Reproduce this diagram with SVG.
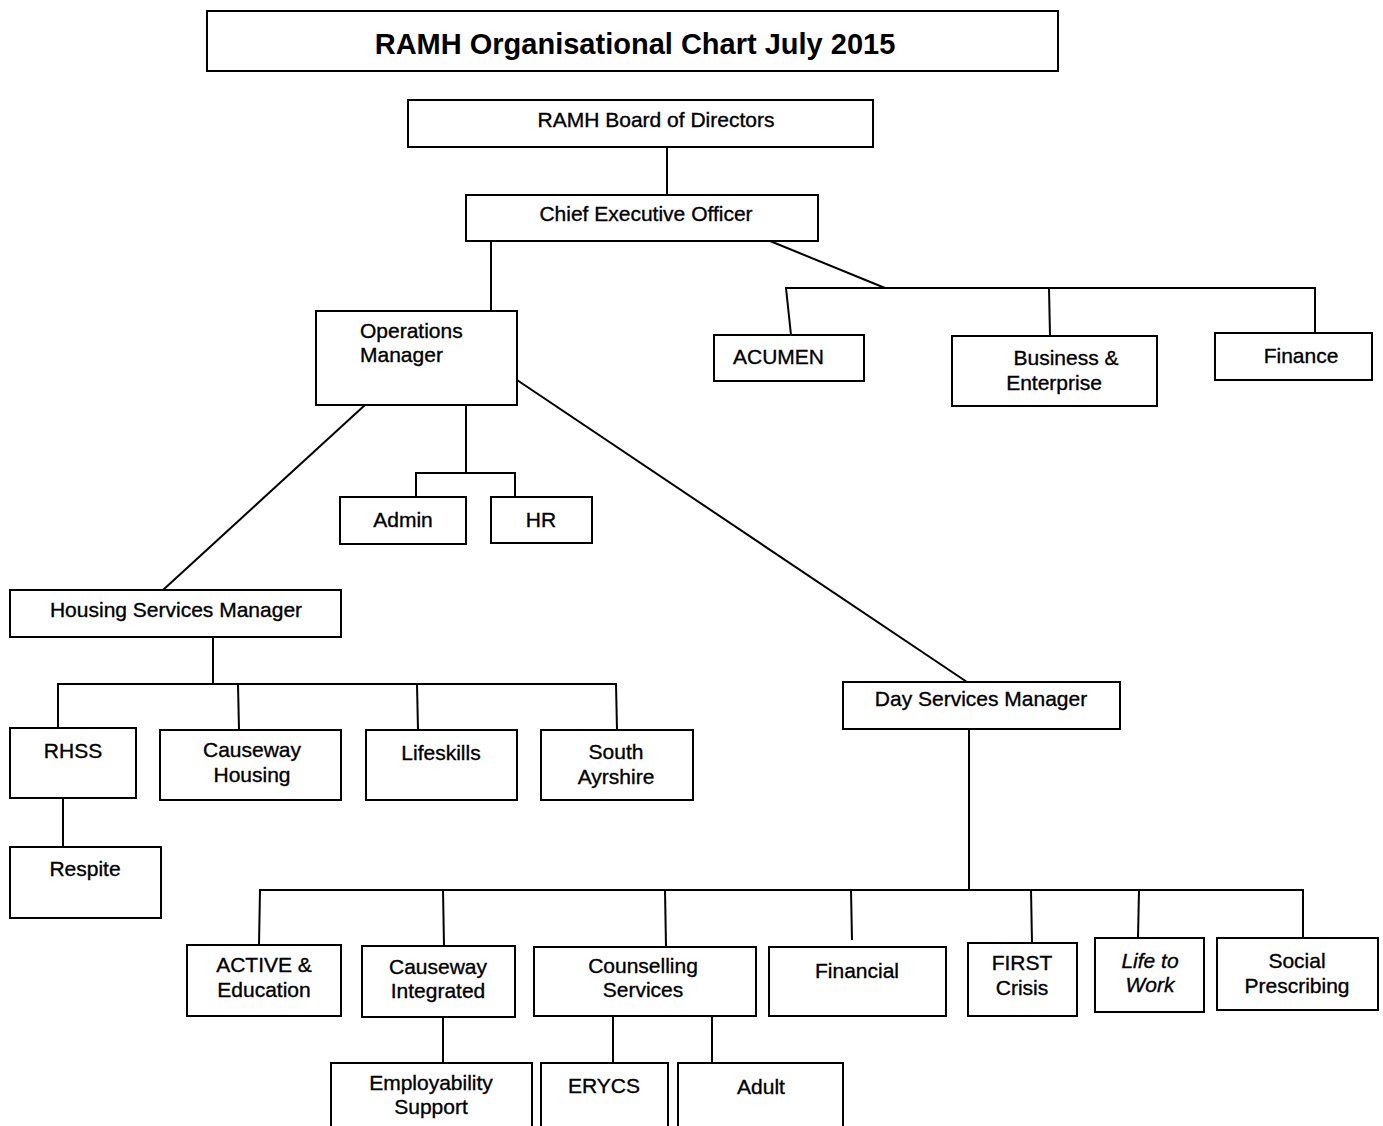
<svg xmlns="http://www.w3.org/2000/svg" width="1383" height="1126" viewBox="0 0 1383 1126">
<style>
.box{fill:#fff;stroke:#000;stroke-width:2}
.t{font-family:"Liberation Sans",Arial,sans-serif;font-size:21px;fill:#000;stroke:#000;stroke-width:0.35;text-anchor:middle}
.l{text-anchor:start}
.i{font-style:italic}
.title{font-family:"Liberation Sans",Arial,sans-serif;font-size:29px;font-weight:bold;fill:#000;text-anchor:middle}
.c{fill:none;stroke:#000;stroke-width:2}
</style>
<rect width="1383" height="1126" fill="#fff"/>
<g id="connectors">
<line class="c" x1="667" y1="147" x2="667" y2="195"/>
<line class="c" x1="491" y1="241" x2="491" y2="311"/>
<polyline class="c" points="770,241 885,288"/>
<polyline class="c" points="791,335 786,288 1315,288 1315,333"/>
<line class="c" x1="1049" y1="288" x2="1050" y2="336"/>
<line class="c" x1="365" y1="405" x2="163" y2="590"/>
<line class="c" x1="466" y1="405" x2="466" y2="473"/>
<polyline class="c" points="416,497 416,473 515,473 515,497"/>
<line class="c" x1="517" y1="380" x2="967" y2="682"/>
<line class="c" x1="213" y1="637" x2="213" y2="684"/>
<polyline class="c" points="58,728 58,684 616,684 617,730"/>
<line class="c" x1="238" y1="684" x2="239" y2="730"/>
<line class="c" x1="417" y1="684" x2="418" y2="730"/>
<line class="c" x1="63" y1="798" x2="63" y2="847"/>
<line class="c" x1="969" y1="729" x2="969" y2="890"/>
<polyline class="c" points="259,945 260,890 1303,890 1303,938"/>
<line class="c" x1="443" y1="890" x2="444" y2="946"/>
<line class="c" x1="665" y1="890" x2="666" y2="947"/>
<line class="c" x1="851" y1="890" x2="852" y2="940"/>
<line class="c" x1="1031" y1="890" x2="1032" y2="943"/>
<line class="c" x1="1139" y1="890" x2="1138" y2="938"/>
<line class="c" x1="443" y1="1017" x2="443" y2="1063"/>
<line class="c" x1="613" y1="1016" x2="613" y2="1063"/>
<line class="c" x1="712" y1="1016" x2="712" y2="1070"/>
</g>
<g id="title"><rect class="box" x="207" y="11" width="851" height="60"/><text class="title" x="635" y="54">RAMH Organisational Chart July 2015</text></g>
<g id="board"><rect class="box" x="408" y="100" width="465" height="47"/><text class="t" x="656" y="127">RAMH Board of Directors</text></g>
<g id="ceo"><rect class="box" x="466" y="195" width="352" height="46"/><text class="t" x="646" y="221">Chief Executive Officer</text></g>
<g id="ops"><rect class="box" x="316" y="311" width="201" height="94"/><text class="t l" x="360" y="338">Operations</text><text class="t l" x="360" y="362">Manager</text></g>
<g id="acumen"><rect class="box" x="714" y="335" width="150" height="46"/><text class="t l" x="733" y="364">ACUMEN</text></g>
<g id="business"><rect class="box" x="952" y="336" width="205" height="70"/><text class="t" x="1066" y="365">Business &amp;</text><text class="t" x="1054" y="390">Enterprise</text></g>
<g id="finance"><rect class="box" x="1215" y="333" width="157" height="47"/><text class="t" x="1301" y="363">Finance</text></g>
<g id="admin"><rect class="box" x="340" y="497" width="126" height="47"/><text class="t" x="403" y="527">Admin</text></g>
<g id="hr"><rect class="box" x="491" y="497" width="101" height="46"/><text class="t" x="541" y="527">HR</text></g>
<g id="housing"><rect class="box" x="10" y="590" width="331" height="47"/><text class="t" x="176" y="617">Housing Services Manager</text></g>
<g id="rhss"><rect class="box" x="10" y="728" width="126" height="70"/><text class="t" x="73" y="758">RHSS</text></g>
<g id="causeway-housing"><rect class="box" x="160" y="730" width="181" height="70"/><text class="t" x="252" y="757">Causeway</text><text class="t" x="252" y="782">Housing</text></g>
<g id="lifeskills"><rect class="box" x="366" y="730" width="151" height="70"/><text class="t" x="441" y="760">Lifeskills</text></g>
<g id="south-ayrshire"><rect class="box" x="541" y="730" width="152" height="70"/><text class="t" x="616" y="759">South</text><text class="t" x="616" y="784">Ayrshire</text></g>
<g id="respite"><rect class="box" x="10" y="847" width="151" height="71"/><text class="t" x="85" y="876">Respite</text></g>
<g id="day"><rect class="box" x="843" y="682" width="277" height="47"/><text class="t" x="981" y="706">Day Services Manager</text></g>
<g id="active"><rect class="box" x="187" y="945" width="154" height="71"/><text class="t" x="264" y="972">ACTIVE &amp;</text><text class="t" x="264" y="997">Education</text></g>
<g id="causeway-integrated"><rect class="box" x="362" y="946" width="153" height="71"/><text class="t" x="438" y="974">Causeway</text><text class="t" x="438" y="998">Integrated</text></g>
<g id="counselling"><rect class="box" x="534" y="947" width="222" height="69"/><text class="t" x="643" y="973">Counselling</text><text class="t" x="643" y="997">Services</text></g>
<g id="financial"><rect class="box" x="769" y="947" width="177" height="69"/><text class="t" x="857" y="978">Financial</text></g>
<g id="first"><rect class="box" x="968" y="943" width="109" height="73"/><text class="t" x="1022" y="970">FIRST</text><text class="t" x="1022" y="995">Crisis</text></g>
<g id="life-to-work"><rect class="box" x="1095" y="938" width="109" height="74"/><text class="t i" x="1150" y="968">Life to</text><text class="t i" x="1150" y="992">Work</text></g>
<g id="social"><rect class="box" x="1217" y="938" width="161" height="72"/><text class="t" x="1297" y="968">Social</text><text class="t" x="1297" y="993">Prescribing</text></g>
<g id="employability"><rect class="box" x="331" y="1063" width="201" height="70"/><text class="t" x="431" y="1090">Employability</text><text class="t" x="431" y="1114">Support</text></g>
<g id="erycs"><rect class="box" x="541" y="1063" width="127" height="70"/><text class="t" x="604" y="1093">ERYCS</text></g>
<g id="adult"><rect class="box" x="678" y="1063" width="165" height="70"/><text class="t" x="761" y="1094">Adult</text></g>
</svg>
